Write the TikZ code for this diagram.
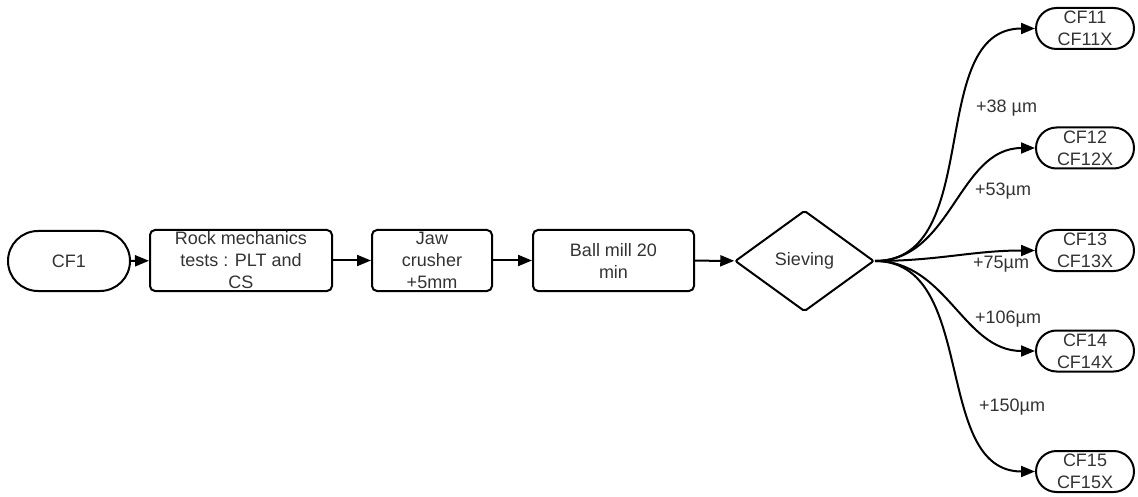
\documentclass[tikz,border=0pt]{standalone}
\usepackage{fontspec}
\setmainfont{Liberation Sans}
\usetikzlibrary{arrows.meta,shapes.geometric}

\begin{document}
\begin{tikzpicture}[x=1pt,y=-1pt,
  every node/.style={font=\fontsize{18}{22}\selectfont, text=black!80},
  base/.style={draw=black, line width=2pt, align=center, inner sep=0pt},
  term/.style={base, minimum width=122pt, minimum height=60pt, rounded corners=30pt},
  proc/.style={base, minimum height=61pt, rounded corners=5pt},
  outbox/.style={base, minimum width=98pt, minimum height=41pt, rounded corners=20.5pt},
  decide/.style={base, diamond, aspect=1.4, minimum width=139pt, minimum height=101pt, rounded corners=2pt},
  arr/.style={line width=2pt, -{Triangle[length=14pt,width=11pt]}},
  lbl/.style={anchor=west, inner sep=0pt}
]
\useasboundingbox (0,0) rectangle (1138,497);

% main process chain
\node[term] (cf1) at (69,261) {CF1};
\node[proc, minimum width=182pt] (rock) at (241,260.5) {Rock mechanics\\tests : PLT and\\CS};
\node[proc, minimum width=120pt] (jaw) at (432,260.5) {Jaw\\crusher\\+5mm};
\node[proc, minimum width=161pt] (ball) at (613.5,260.5) {Ball mill 20\\min};
\node[decide] (siev) at (804.5,261) {Sieving};

% sieve fractions
\node[outbox] (cf11) at (1085,28.5) {CF11\\CF11X};
\node[outbox] (cf12) at (1085,148) {CF12\\CF12X};
\node[outbox] (cf13) at (1085,250.5) {CF13\\CF13X};
\node[outbox] (cf14) at (1085,351) {CF14\\CF14X};
\node[outbox] (cf15) at (1085,471.5) {CF15\\CF15X};

\draw[arr] (cf1) -- (rock);
\draw[arr] (rock) -- (jaw);
\draw[arr] (jaw) -- (ball);
\draw[arr] (ball) -- (siev);

\draw[arr] (siev.east) to[out=0,in=180] (cf11.west);
\draw[arr] (siev.east) to[out=0,in=180] (cf12.west);
\draw[arr] (siev.east) to[out=0,in=180] (cf13.west);
\draw[arr] (siev.east) to[out=0,in=180] (cf14.west);
\draw[arr] (siev.east) to[out=0,in=180] (cf15.west);

% size labels
\node[lbl] (l38) at (976,108) {+38 µm};
\node[lbl] (l53) at (975,191) {+53µm};
\node[lbl] (l75) at (973,264) {+75µm};
\node[lbl] (l106) at (975,319) {+106µm};
\node[lbl] (l150) at (979,407) {+150µm};
\end{tikzpicture}
\end{document}
